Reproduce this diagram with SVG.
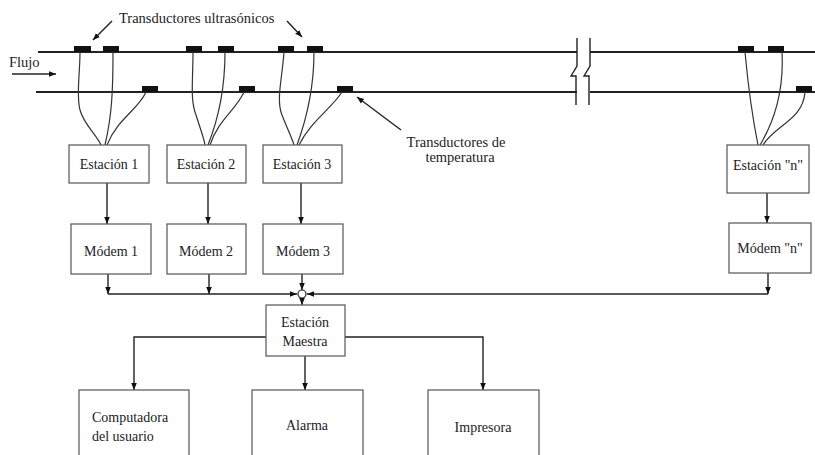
<svg xmlns="http://www.w3.org/2000/svg" width="815" height="455" viewBox="0 0 815 455">
<style>
  .box{fill:#fff;stroke:#555;stroke-width:1.2}
  .t{font-family:"Liberation Serif","Times New Roman",serif;font-size:14px;fill:#222;text-anchor:middle}
  .tl{font-family:"Liberation Serif","Times New Roman",serif;font-size:14px;fill:#222;text-anchor:start}
  .lbl{font-family:"Liberation Serif","Times New Roman",serif;font-size:14.5px;fill:#222}
  .pipe{stroke:#222;stroke-width:2;fill:none}
  .wire{stroke:#333;stroke-width:1.2;fill:none}
  .ln{stroke:#222;stroke-width:1.4;fill:none}
  .tr{fill:#111}
</style>
<defs>
  <marker id="ah" viewBox="0 0 10 10" refX="10" refY="5" markerWidth="7" markerHeight="7" markerUnits="userSpaceOnUse" orient="auto">
    <path d="M0,1 L10,5 L0,9 z" fill="#111"/>
  </marker>
</defs>
<rect width="815" height="455" fill="#fff"/>

<g id="pipe">
  <path class="pipe" d="M38,52 H577 M590,52 H815 M36,92 H577 M590,92 H815"/>
  <path class="ln" d="M577,38 V66 L571,76 H576 V105 M590,38 V66 L584,76 H589 V105"/>
  <rect class="tr" x="74" y="46" width="17" height="6"/>
  <rect class="tr" x="103" y="46" width="16" height="6"/>
  <rect class="tr" x="186" y="46" width="16" height="6"/>
  <rect class="tr" x="218" y="46" width="16" height="6"/>
  <rect class="tr" x="278" y="46" width="16" height="6"/>
  <rect class="tr" x="307" y="46" width="16" height="6"/>
  <rect class="tr" x="738" y="46" width="16" height="6"/>
  <rect class="tr" x="768" y="46" width="16" height="6"/>
  <rect class="tr" x="142" y="86" width="16" height="6"/>
  <rect class="tr" x="239" y="86" width="16" height="6"/>
  <rect class="tr" x="337" y="86" width="16" height="6"/>
  <rect class="tr" x="796" y="86" width="16" height="6"/>
</g>

<g id="labels">
  <text class="lbl" x="119" y="23">Transductores ultrasónicos</text>
  <text class="lbl" x="9" y="67">Flujo</text>
  <text class="lbl" x="456" y="147" text-anchor="middle">Transductores de</text>
  <text class="lbl" x="460" y="162" text-anchor="middle">temperatura</text>
</g>

<g id="connectors">
  <path class="ln" d="M112,21 L93,40" marker-end="url(#ah)"/>
  <path class="ln" d="M287,21 L302,37" marker-end="url(#ah)"/>
  <path class="ln" d="M12,74 H56" marker-end="url(#ah)"/>
  <path class="ln" d="M401,130 L357,97" marker-end="url(#ah)"/>
  <path class="wire" d="M80,52 C80,75 76,95 80,110 C84,125 97,135 101,145"/>
  <path class="wire" d="M113,52 C113,90 112,115 105,145"/>
  <path class="wire" d="M146,92 C138,110 118,118 107,145"/>
  <path class="wire" d="M193,52 C193,80 190,100 196,115 C200,128 204,138 205,145"/>
  <path class="wire" d="M225,52 C225,85 220,115 208,145"/>
  <path class="wire" d="M244,92 C236,110 218,120 210,145"/>
  <path class="wire" d="M284,52 C282,80 276,100 282,115 C287,128 292,138 294,145"/>
  <path class="wire" d="M314,52 C314,85 308,115 297,145"/>
  <path class="wire" d="M342,92 C332,108 310,122 299,145"/>
  <path class="wire" d="M745,52 C748,85 752,115 758,145"/>
  <path class="wire" d="M782,52 C784,90 775,120 760,145"/>
  <path class="wire" d="M805,92 C803,120 775,125 763,145"/>
  <path class="ln" d="M107,183 V224" marker-end="url(#ah)"/>
  <path class="ln" d="M208,183 V224" marker-end="url(#ah)"/>
  <path class="ln" d="M301,183 V224" marker-end="url(#ah)"/>
  <path class="ln" d="M767,193 V223" stroke="#666" marker-end="url(#ah)"/>
  <path class="ln" d="M108,274 V294" marker-end="url(#ah)"/>
  <path class="ln" d="M209,274 V294" marker-end="url(#ah)"/>
  <path class="ln" d="M768,273 V294" marker-end="url(#ah)"/>
  <path class="ln" d="M302,274 V290" marker-end="url(#ah)"/>
  <path class="ln" d="M108,294 H297" marker-end="url(#ah)"/>
  <path class="ln" d="M768,294 H307" marker-end="url(#ah)"/>
  <circle cx="302" cy="294" r="4" fill="#fff" stroke="#222" stroke-width="1.2"/>
  <path class="ln" d="M302,298 V305" marker-end="url(#ah)"/>
  <path class="ln" d="M266,337 H134 V390" marker-end="url(#ah)"/>
  <path class="ln" d="M345,337 H483 V390" marker-end="url(#ah)"/>
  <path class="ln" d="M305,356 V390" marker-end="url(#ah)"/>
</g>

<g id="estacion1"><rect class="box" x="69" y="145" width="80" height="38"/><text class="t" x="109" y="169">Estación 1</text></g>
<g id="estacion2"><rect class="box" x="167" y="145" width="79" height="38"/><text class="t" x="206" y="169">Estación 2</text></g>
<g id="estacion3"><rect class="box" x="263" y="145" width="79" height="38"/><text class="t" x="302" y="169">Estación 3</text></g>
<g id="estacionN"><rect class="box" x="727" y="145" width="82" height="48"/><text class="t" x="768" y="170">Estación "n"</text></g>
<g id="modem1"><rect class="box" x="71" y="224" width="80" height="50"/><text class="t" x="111" y="256">Módem 1</text></g>
<g id="modem2"><rect class="box" x="167" y="224" width="79" height="50"/><text class="t" x="206" y="256">Módem 2</text></g>
<g id="modem3"><rect class="box" x="263" y="224" width="80" height="50"/><text class="t" x="303" y="256">Módem 3</text></g>
<g id="modemN"><rect class="box" x="729" y="223" width="82" height="50"/><text class="t" x="770" y="253">Módem "n"</text></g>
<g id="maestra"><rect class="box" x="266" y="305" width="79" height="51"/><text class="t" x="305" y="327">Estación</text><text class="t" x="305" y="346">Maestra</text></g>
<g id="computadora"><rect class="box" x="79" y="390" width="110" height="80"/><text class="tl" x="92" y="422">Computadora</text><text class="tl" x="92" y="441">del usuario</text></g>
<g id="alarma"><rect class="box" x="252" y="390" width="111" height="80"/><text class="t" x="307" y="430">Alarma</text></g>
<g id="impresora"><rect class="box" x="428" y="390" width="111" height="80"/><text class="t" x="483" y="432">Impresora</text></g>
</svg>
